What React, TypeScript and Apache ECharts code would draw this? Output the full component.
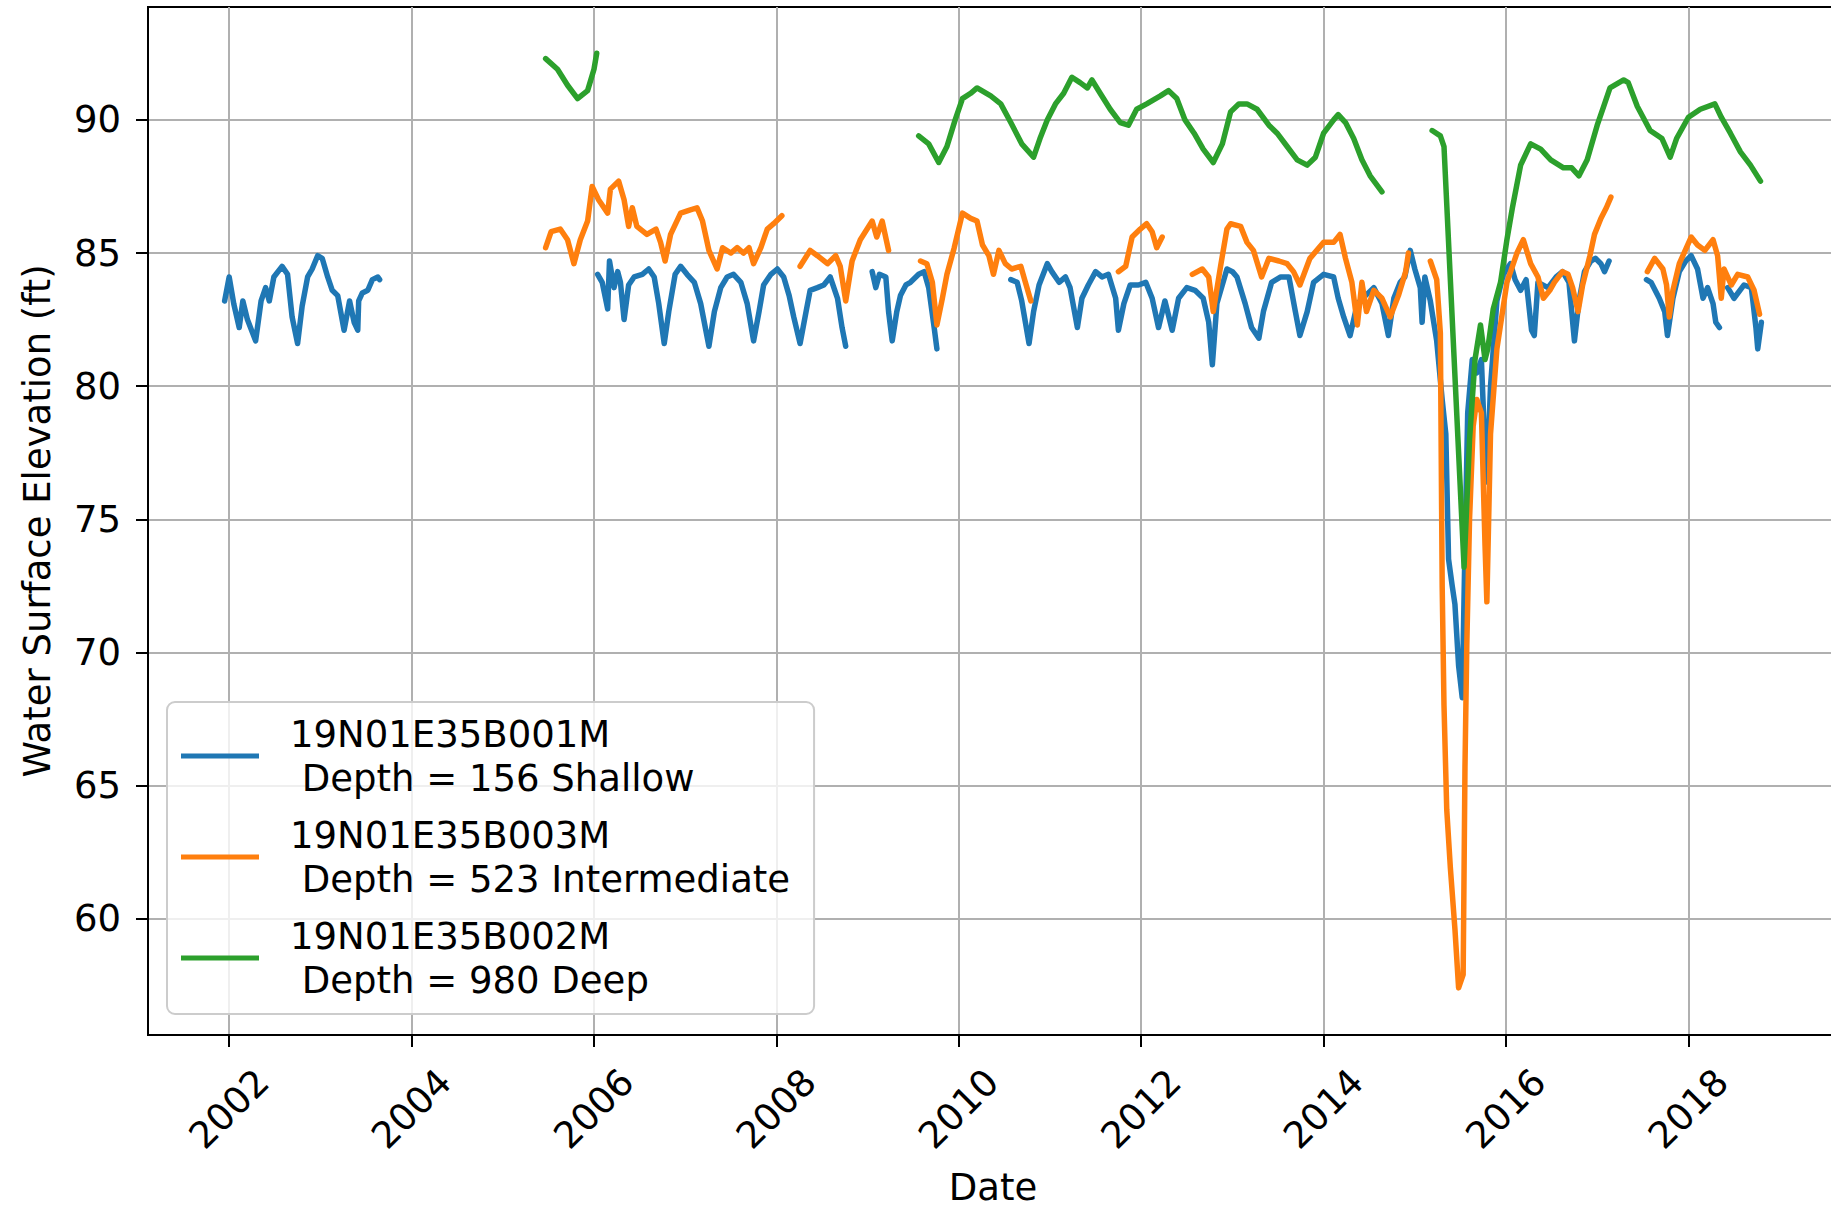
import React, { useEffect, useRef } from "react";
import * as echarts from "echarts";

const FONT = "DejaVu Sans";

const xTicks = [2002, 2004, 2006, 2008, 2010, 2012, 2014, 2016, 2018];
const yTicks = [60, 65, 70, 75, 80, 85, 90];

const seriesNames = [
  "19N01E35B001M\n Depth = 156 Shallow",
  "19N01E35B003M\n Depth = 523 Intermediate",
  "19N01E35B002M\n Depth = 980 Deep",
];
const seriesColors = ["#1f77b4", "#ff7f0e", "#2ca02c"];

type Pt = [number, number];

// ---- Shallow (B001M) ----
const shallow2002: Pt[] = [
  [2001.95, 83.2], [2002.0, 84.1], [2002.05, 83.1], [2002.11, 82.2], [2002.15, 83.2], [2002.2, 82.5],
  [2002.29, 81.7], [2002.35, 83.2], [2002.4, 83.7], [2002.44, 83.2], [2002.49, 84.1], [2002.58, 84.5],
  [2002.64, 84.2], [2002.69, 82.6], [2002.75, 81.6], [2002.8, 83.0], [2002.86, 84.1], [2002.91, 84.4],
  [2002.97, 84.9], [2003.02, 84.8], [2003.08, 84.1], [2003.13, 83.6], [2003.19, 83.4], [2003.26, 82.1],
  [2003.32, 83.2], [2003.37, 82.4], [2003.41, 82.1], [2003.42, 83.2], [2003.46, 83.5], [2003.52, 83.6],
  [2003.57, 84.0], [2003.63, 84.1], [2003.65, 84.0],
];
const shallow2006: Pt[] = [
  [2006.04, 84.2], [2006.09, 83.9], [2006.15, 82.9], [2006.17, 84.7], [2006.22, 83.7], [2006.26, 84.3],
  [2006.29, 83.9], [2006.33, 82.5], [2006.38, 83.8], [2006.44, 84.1], [2006.53, 84.2], [2006.6, 84.4],
  [2006.66, 84.1], [2006.71, 83.1], [2006.77, 81.6], [2006.82, 82.8], [2006.89, 84.2], [2006.95, 84.5],
  [2007.02, 84.2], [2007.1, 83.9], [2007.17, 83.1], [2007.26, 81.5], [2007.32, 82.8], [2007.39, 83.7],
  [2007.46, 84.1], [2007.53, 84.2], [2007.61, 83.9], [2007.68, 83.1], [2007.75, 81.7], [2007.81, 82.8],
  [2007.86, 83.8], [2007.94, 84.2], [2008.01, 84.4], [2008.08, 84.1], [2008.14, 83.4], [2008.19, 82.6],
  [2008.26, 81.6], [2008.32, 82.7], [2008.37, 83.6], [2008.45, 83.7], [2008.52, 83.8], [2008.59, 84.1],
  [2008.67, 83.3], [2008.72, 82.2], [2008.76, 81.5],
];
const shallow2009: Pt[] = [
  [2009.05, 84.3], [2009.09, 83.7], [2009.13, 84.2], [2009.2, 84.1], [2009.23, 82.8], [2009.27, 81.7],
  [2009.32, 82.8], [2009.36, 83.4], [2009.42, 83.8], [2009.47, 83.9], [2009.56, 84.2], [2009.62, 84.3],
  [2009.67, 83.7], [2009.73, 82.2], [2009.76, 81.4],
];
const shallow2010: Pt[] = [
  [2010.57, 84.0], [2010.64, 83.9], [2010.69, 83.2], [2010.77, 81.6], [2010.82, 82.8], [2010.88, 83.8],
  [2010.97, 84.6], [2011.02, 84.3], [2011.1, 83.9], [2011.17, 84.1], [2011.22, 83.7], [2011.3, 82.2],
  [2011.35, 83.3], [2011.42, 83.8], [2011.5, 84.3], [2011.57, 84.1], [2011.64, 84.2], [2011.72, 83.3],
  [2011.75, 82.1], [2011.81, 83.1], [2011.88, 83.8], [2011.97, 83.8], [2012.05, 83.9], [2012.12, 83.3],
  [2012.19, 82.2], [2012.26, 83.2], [2012.34, 82.1], [2012.41, 83.3], [2012.5, 83.7], [2012.59, 83.6],
  [2012.68, 83.3], [2012.74, 82.4], [2012.78, 80.8], [2012.83, 83.1], [2012.94, 84.4], [2013.0, 84.3],
  [2013.05, 84.1], [2013.14, 83.1], [2013.21, 82.2], [2013.29, 81.8], [2013.34, 82.8], [2013.43, 83.9],
  [2013.53, 84.1], [2013.62, 84.1], [2013.69, 82.8], [2013.74, 81.9], [2013.82, 82.8], [2013.89, 83.9],
  [2014.0, 84.2], [2014.11, 84.1], [2014.16, 83.3], [2014.22, 82.6], [2014.29, 81.9], [2014.37, 83.1],
  [2014.46, 83.4], [2014.55, 83.7], [2014.64, 83.1], [2014.71, 81.9], [2014.77, 83.3], [2014.84, 83.9],
  [2014.89, 84.1], [2014.95, 85.1], [2015.0, 84.4], [2015.06, 83.7], [2015.08, 82.4], [2015.11, 84.1],
  [2015.17, 83.2], [2015.24, 81.7], [2015.3, 79.5], [2015.34, 78.2], [2015.37, 73.5], [2015.41, 72.5],
  [2015.44, 71.8], [2015.48, 69.5], [2015.52, 68.3], [2015.55, 74.0], [2015.58, 79.0], [2015.63, 81.0],
  [2015.68, 80.5], [2015.73, 81.0], [2015.77, 77.5], [2015.79, 76.4], [2015.83, 80.0], [2015.9, 83.2],
  [2015.97, 84.2], [2016.05, 84.6], [2016.1, 84.0], [2016.16, 83.6], [2016.22, 84.0], [2016.28, 82.1],
  [2016.31, 81.9], [2016.35, 83.9], [2016.46, 83.7], [2016.55, 84.1], [2016.62, 84.3], [2016.69, 83.9],
  [2016.75, 81.7], [2016.8, 83.2], [2016.86, 84.3], [2016.93, 84.7], [2016.98, 84.8], [2017.04, 84.6],
  [2017.08, 84.3], [2017.13, 84.7],
];
const shallow2017: Pt[] = [
  [2017.54, 84.0], [2017.59, 83.9], [2017.68, 83.3], [2017.74, 82.8], [2017.77, 81.9], [2017.83, 83.3],
  [2017.9, 84.3], [2017.97, 84.7], [2018.03, 84.9], [2018.1, 84.4], [2018.16, 83.3], [2018.21, 83.7],
  [2018.27, 83.1], [2018.3, 82.4], [2018.34, 82.2],
];
const shallow2018: Pt[] = [
  [2018.43, 83.7], [2018.5, 83.3], [2018.61, 83.8], [2018.69, 83.7], [2018.74, 82.2], [2018.76, 81.4],
  [2018.8, 82.4],
];

// ---- Intermediate (B003M) ----
const inter2005: Pt[] = [
  [2005.47, 85.2], [2005.53, 85.8], [2005.63, 85.9], [2005.71, 85.5], [2005.78, 84.6], [2005.85, 85.5],
  [2005.93, 86.2], [2005.98, 87.5], [2006.05, 87.0], [2006.15, 86.5], [2006.18, 87.4], [2006.27, 87.7],
  [2006.33, 87.0], [2006.38, 86.0], [2006.42, 86.7], [2006.47, 86.0], [2006.58, 85.7], [2006.68, 85.9],
  [2006.73, 85.4], [2006.78, 84.7], [2006.84, 85.7], [2006.95, 86.5], [2007.04, 86.6], [2007.13, 86.7],
  [2007.19, 86.2], [2007.26, 85.1], [2007.35, 84.4], [2007.41, 85.2], [2007.5, 85.0], [2007.57, 85.2],
  [2007.64, 85.0], [2007.7, 85.2], [2007.75, 84.6], [2007.83, 85.2], [2007.9, 85.9], [2007.97, 86.1],
  [2008.06, 86.4],
];
const inter2008: Pt[] = [
  [2008.26, 84.5], [2008.37, 85.1], [2008.45, 84.9], [2008.56, 84.6], [2008.65, 84.9], [2008.7, 84.5],
  [2008.76, 83.2], [2008.83, 84.7], [2008.92, 85.5], [2009.05, 86.2], [2009.1, 85.6], [2009.16, 86.2],
  [2009.23, 85.1],
];
const inter2009: Pt[] = [
  [2009.58, 84.7], [2009.65, 84.6], [2009.71, 83.9], [2009.76, 82.3], [2009.82, 83.3], [2009.87, 84.2],
  [2009.95, 85.2], [2010.04, 86.5], [2010.13, 86.3], [2010.2, 86.2], [2010.26, 85.3], [2010.33, 84.9],
  [2010.38, 84.2], [2010.44, 85.1], [2010.51, 84.6], [2010.58, 84.4], [2010.68, 84.5], [2010.73, 83.9],
  [2010.79, 83.2],
];
const inter2011: Pt[] = [
  [2011.75, 84.3], [2011.83, 84.5], [2011.9, 85.6], [2011.99, 85.9], [2012.06, 86.1], [2012.12, 85.8],
  [2012.17, 85.2], [2012.23, 85.6],
];
const inter2012: Pt[] = [
  [2012.56, 84.2], [2012.67, 84.4], [2012.74, 84.1], [2012.79, 82.8], [2012.87, 84.5], [2012.94, 85.9],
  [2012.98, 86.1], [2013.09, 86.0], [2013.16, 85.4], [2013.23, 85.1], [2013.32, 84.1], [2013.4, 84.8],
  [2013.51, 84.7], [2013.6, 84.6], [2013.67, 84.3], [2013.74, 83.8], [2013.85, 84.8], [2014.0, 85.4],
  [2014.11, 85.4], [2014.18, 85.7], [2014.24, 84.8], [2014.31, 83.9], [2014.37, 82.3], [2014.42, 83.9],
  [2014.47, 82.8], [2014.55, 83.6], [2014.64, 83.3], [2014.73, 82.6], [2014.82, 83.4], [2014.9, 84.3],
  [2014.93, 85.0],
];
const inter2015: Pt[] = [
  [2015.17, 84.7], [2015.24, 84.0], [2015.28, 82.0], [2015.3, 72.5], [2015.32, 68.0], [2015.35, 64.1],
  [2015.39, 61.9], [2015.44, 59.6], [2015.48, 57.4], [2015.53, 57.9], [2015.55, 65.7], [2015.57, 70.3],
  [2015.6, 75.0], [2015.64, 78.5], [2015.68, 79.5], [2015.73, 79.0], [2015.77, 74.0], [2015.79, 71.9],
  [2015.83, 78.2], [2015.9, 81.4], [2016.01, 83.9], [2016.12, 85.0], [2016.19, 85.5], [2016.27, 84.6],
  [2016.35, 84.1], [2016.41, 83.3], [2016.48, 83.6], [2016.53, 83.9], [2016.62, 84.3], [2016.68, 84.2],
  [2016.73, 83.7], [2016.79, 82.8], [2016.84, 83.8], [2016.92, 84.9], [2016.97, 85.7], [2017.04, 86.3],
  [2017.1, 86.7], [2017.15, 87.1],
];
const inter2017: Pt[] = [
  [2017.55, 84.3], [2017.63, 84.8], [2017.72, 84.4], [2017.76, 83.8], [2017.79, 82.6], [2017.83, 83.6],
  [2017.9, 84.6], [2018.03, 85.6], [2018.1, 85.3], [2018.18, 85.1], [2018.27, 85.5], [2018.32, 84.9],
  [2018.36, 83.3], [2018.39, 84.4], [2018.47, 83.8], [2018.54, 84.2], [2018.65, 84.1], [2018.72, 83.6],
  [2018.78, 82.7],
];

// ---- Deep (B002M) ----
const deep2005: Pt[] = [
  [2005.47, 92.3], [2005.6, 91.9], [2005.71, 91.3], [2005.82, 90.8], [2005.93, 91.1], [2006.0, 91.9],
  [2006.03, 92.5],
];
const deep2009: Pt[] = [
  [2009.56, 89.4], [2009.67, 89.1], [2009.78, 88.4], [2009.87, 89.0], [2009.96, 90.0], [2010.04, 90.8],
  [2010.13, 91.0], [2010.2, 91.2], [2010.35, 90.9], [2010.46, 90.6], [2010.57, 89.9], [2010.69, 89.1],
  [2010.82, 88.6], [2010.89, 89.3], [2010.97, 90.0], [2011.06, 90.6], [2011.15, 91.0], [2011.24, 91.6],
  [2011.33, 91.4], [2011.41, 91.2], [2011.46, 91.5], [2011.55, 91.0], [2011.66, 90.4], [2011.77, 89.9],
  [2011.86, 89.8], [2011.95, 90.4], [2012.06, 90.6], [2012.21, 90.9], [2012.3, 91.1], [2012.39, 90.8],
  [2012.48, 90.0], [2012.58, 89.5], [2012.68, 88.9], [2012.79, 88.4], [2012.89, 89.1], [2012.98, 90.3],
  [2013.07, 90.6], [2013.16, 90.6], [2013.27, 90.4], [2013.4, 89.8], [2013.49, 89.5], [2013.6, 89.0],
  [2013.71, 88.5], [2013.82, 88.3], [2013.91, 88.6], [2014.0, 89.5], [2014.11, 90.0], [2014.16, 90.2],
  [2014.24, 89.9], [2014.33, 89.3], [2014.42, 88.5], [2014.51, 87.9], [2014.64, 87.3],
];
const deep2015: Pt[] = [
  [2015.19, 89.6], [2015.28, 89.4], [2015.32, 89.0], [2015.54, 73.2], [2015.6, 78.0], [2015.66, 81.0],
  [2015.72, 82.3], [2015.77, 81.0], [2015.8, 81.4], [2015.86, 82.9], [2015.94, 83.9], [2016.01, 85.5],
  [2016.07, 86.7], [2016.16, 88.3], [2016.27, 89.1], [2016.38, 88.9], [2016.49, 88.5], [2016.63, 88.2],
  [2016.72, 88.2], [2016.8, 87.9], [2016.89, 88.5], [2017.0, 89.8], [2017.07, 90.5], [2017.14, 91.2],
  [2017.29, 91.5], [2017.34, 91.4], [2017.44, 90.5], [2017.58, 89.6], [2017.71, 89.3], [2017.8, 88.6],
  [2017.87, 89.3], [2018.0, 90.1], [2018.13, 90.4], [2018.29, 90.6], [2018.36, 90.1], [2018.46, 89.5],
  [2018.57, 88.8], [2018.68, 88.3], [2018.79, 87.7],
];

const shallowSegments = [shallow2002, shallow2006, shallow2009, shallow2010, shallow2017, shallow2018];
const interSegments = [inter2005, inter2008, inter2009, inter2011, inter2012, inter2015, inter2017];
const deepSegments = [deep2005, deep2009, deep2015];

function joinSegments(segs: Pt[][]): (number | string)[][] {
  const out: (number | string)[][] = [];
  segs.forEach((s, i) => {
    if (i > 0) {
      const prev = segs[i - 1];
      out.push([(prev[prev.length - 1][0] + s[0][0]) / 2, "-"]);
    }
    s.forEach((p) => out.push([p[0], p[1]]));
  });
  return out;
}

const textBase = { fontFamily: FONT, fontSize: 37, color: "#000" };

export default function App() {
  const ref = useRef<HTMLDivElement>(null);
  useEffect(() => {
    if (!ref.current) return;
    const chart = echarts.init(ref.current, undefined, { renderer: "svg" });
    const allSegs = [shallowSegments, interSegments, deepSegments];
    chart.setOption({
      animation: false,
      backgroundColor: "#fff",
      grid: {
        left: 148,
        top: 7,
        right: -7,
        bottom: 173,
        show: true,
        borderColor: "#000",
        borderWidth: 2,
        containLabel: false,
        outerBoundsMode: "none",
      },
      xAxis: {
        type: "value",
        min: 2001.11,
        max: 2019.64,
        name: "Date",
        nameLocation: "middle",
        nameGap: 134,
        nameTextStyle: { ...textBase },
        axisLine: { show: true, onZero: false, lineStyle: { color: "#000", width: 2 } },
        axisTick: { show: true, customValues: xTicks, length: 12, lineStyle: { color: "#000", width: 2 } },
        axisLabel: {
          customValues: xTicks,
          rotate: 45,
          align: "center",
          verticalAlign: "middle",
          margin: 74,
          ...textBase,
          formatter: (v: number) => String(Math.round(v)),
        },
        splitLine: { show: true, lineStyle: { color: "#b0b0b0", width: 2 } },
      },
      yAxis: {
        type: "value",
        min: 55.63,
        max: 94.24,
        name: "Water Surface Elevation (ft)",
        nameLocation: "middle",
        nameGap: 92,
        nameTextStyle: { ...textBase },
        axisLine: { show: true, onZero: false, lineStyle: { color: "#000", width: 2 } },
        axisTick: { show: true, customValues: yTicks, length: 12, lineStyle: { color: "#000", width: 2 } },
        axisLabel: {
          customValues: yTicks,
          margin: 27,
          ...textBase,
          formatter: (v: number) => String(Math.round(v)),
        },
        splitLine: { show: true, lineStyle: { color: "#b0b0b0", width: 2 } },
      },
      legend: {
        orient: "vertical",
        left: 167,
        top: 702,
        padding: [10, 24, 12, 14],
        itemGap: 13,
        itemWidth: 78,
        itemHeight: 5,
        icon: "rect",
        selectedMode: false,
        backgroundColor: "rgba(255,255,255,0.8)",
        borderColor: "#cccccc",
        borderWidth: 2,
        borderRadius: 8,
        textStyle: { ...textBase, lineHeight: 44, padding: [0, 0, 0, 26] },
        data: seriesNames,
      },
      series: seriesNames.map((name, i) => ({
        name,
        type: "line",
        data: joinSegments(allSegs[i]),
        showSymbol: false,
        symbol: "none",
        connectNulls: false,
        color: seriesColors[i],
        lineStyle: { color: seriesColors[i], width: 5.5, join: "round", cap: "round" },
        emphasis: { disabled: true },
        z: 2 + i,
      })),
    });
    return () => chart.dispose();
  }, []);
  return (
    <div
      ref={ref}
      style={{ position: "fixed", left: 0, top: 0, width: 1831, height: 1208, background: "#fff" }}
    />
  );
}
